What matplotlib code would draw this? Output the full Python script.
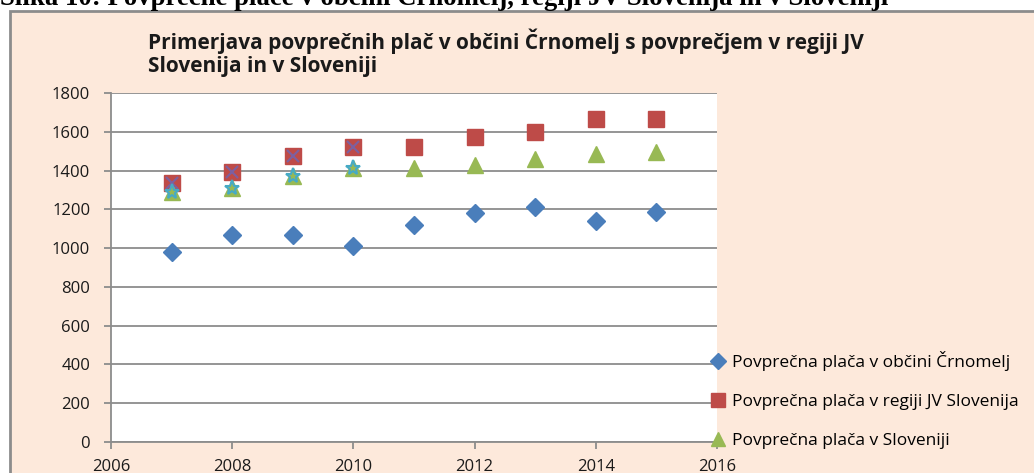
import matplotlib
matplotlib.use('Agg')
import matplotlib.pyplot as plt
from matplotlib.patches import Rectangle

years = [2007, 2008, 2009, 2010, 2011, 2012, 2013, 2014, 2015]
crnomelj = [980, 1066, 1066, 1012, 1119, 1183, 1214, 1140, 1186]
regija_jv = [1334, 1392, 1475, 1523, 1523, 1575, 1597, 1664, 1665]
slovenija = [1291, 1308, 1372, 1411, 1411, 1428, 1459, 1485, 1497]
# extra series hidden under the markers (2007-2010), not shown in legend
years_extra = [2007, 2008, 2009, 2010]
regija_extra = [1334, 1392, 1475, 1523]
slovenija_extra = [1291, 1308, 1372, 1411]

labels = ['Povprečna plača v občini Črnomelj',
          'Povprečna plača v regiji JV Slovenija',
          'Povprečna plača v Sloveniji']
title = 'Primerjava povprečnih plač v občini Črnomelj s povprečjem v regiji JV\nSlovenija in v Sloveniji'
caption = 'Slika 10: Povprečne plače v občini Črnomelj, regiji JV Slovenija in v Sloveniji'

plt.rcParams['font.family'] = ['Open Sans', 'DejaVu Sans']

fig = plt.figure(figsize=(10.34, 4.73), dpi=100)
fig.patch.set_facecolor('white')

# chart area background with grey frame
fig.patches.append(Rectangle((10 / 1034, -0.02), 1.0, 1 - 11 / 473 + 0.02,
                             transform=fig.transFigure, facecolor='#fde9db',
                             edgecolor='#8c8c8c', linewidth=2, zorder=-5))

fig.text(0.0, 1 - 5 / 473, caption, fontsize=19.3, fontweight='bold',
         family='Liberation Serif', va='baseline', ha='left')

fig.text(148 / 1034, 1 - 29 / 473, title, fontsize=15, fontweight='bold',
         va='top', ha='left', linespacing=1.1, color='#1a1a1a')

ax = fig.add_axes([111 / 1034, 1 - 442 / 473, 606 / 1034, 349 / 473])
ax.set_facecolor('white')

ax.plot(years, crnomelj, 'D', color='#4a7ebb', markersize=9, label=labels[0], zorder=3)
ax.plot(years, regija_jv, 's', color='#be4b48', markersize=11.5, label=labels[1], zorder=3)
ax.plot(years, slovenija, '^', color='#98b954', markersize=11, label=labels[2], zorder=3)
ax.plot(years_extra, regija_extra, 'x', color='#7d60a0', markersize=9, mew=1.5, zorder=4)
ax.plot(years_extra, slovenija_extra, '*', color='#46aac5', markersize=11, zorder=4,
        markerfacecolor='none', mew=1.5)

ax.set_xlim(2006, 2016)
ax.set_ylim(0, 1800)
ax.set_xticks(range(2006, 2017, 2))
ax.set_yticks(range(0, 1801, 200))
ax.yaxis.grid(True, color='#8c8c8c', linewidth=1.3)
ax.set_axisbelow(True)
for s in ['top', 'right']:
    ax.spines[s].set_visible(False)
for s in ['left', 'bottom']:
    ax.spines[s].set_color('#8c8c8c')
    ax.spines[s].set_linewidth(1.3)
ax.tick_params(axis='both', colors='#8c8c8c', length=5, width=1.3, labelsize=12,
               labelcolor='#1a1a1a')
ax.tick_params(axis='y', pad=10)
ax.tick_params(axis='x', pad=7)

leg = ax.legend(loc='center left', bbox_to_anchor=(704 / 1034, 1 - 400 / 473),
                bbox_transform=fig.transFigure, frameon=False, fontsize=12.5,
                handlelength=0.6, handletextpad=0.5, labelspacing=1.3, borderpad=0,
                markerscale=0.9)

fig.savefig('out.png', dpi=100, facecolor=fig.get_facecolor())
